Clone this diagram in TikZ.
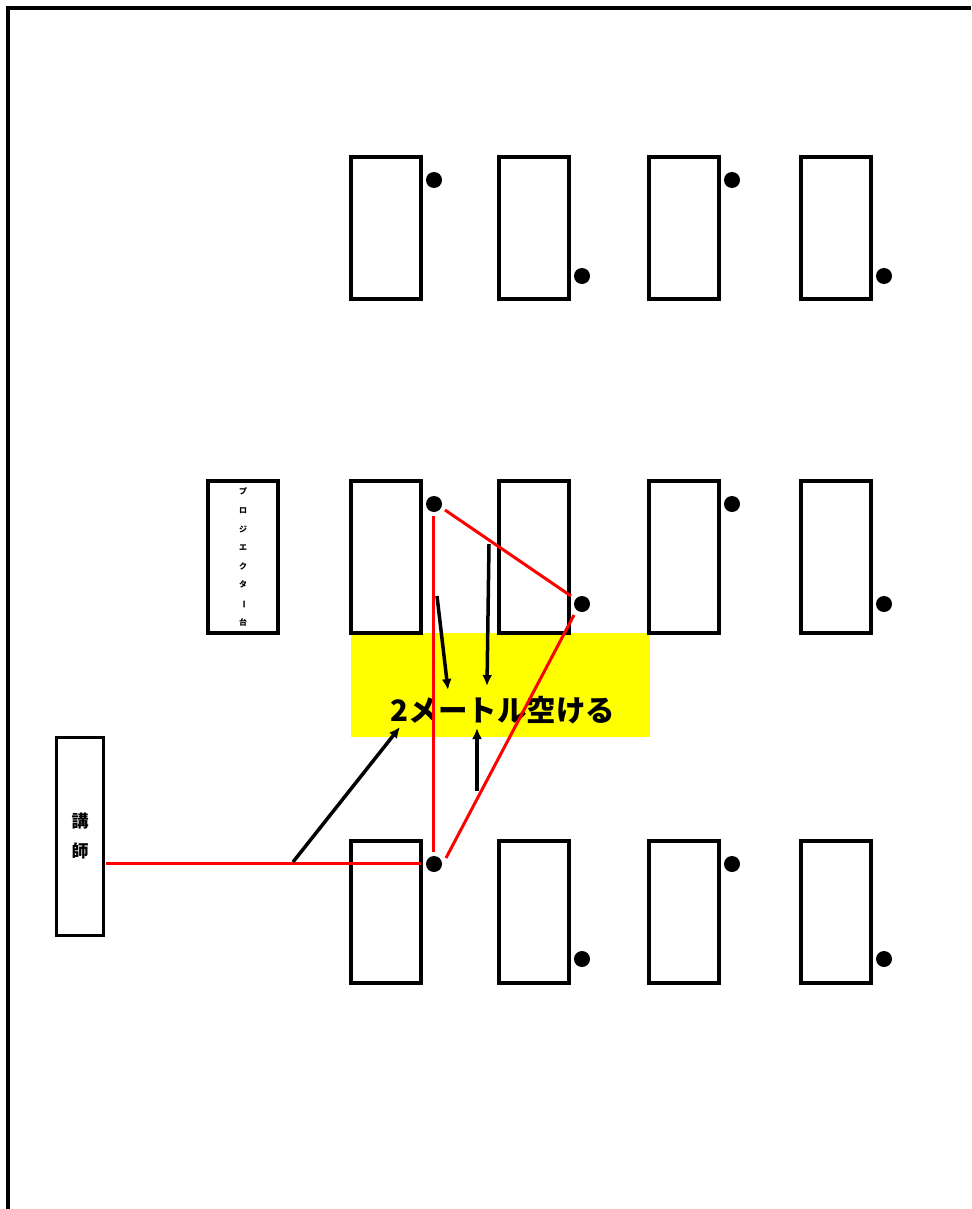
\documentclass[tikz,border=0pt]{standalone}
\usepackage{fontspec}
\newfontfamily\jp{Noto Sans CJK JP}
\usetikzlibrary{arrows.meta}
\definecolor{yel}{RGB}{255,255,0}
\definecolor{rd}{RGB}{255,0,0}
\begin{document}
\begin{tikzpicture}[x=1pt,y=-1pt,
  desk/.style={draw,line width=3.5pt,minimum width=70pt,minimum height=142pt,inner sep=0pt,outer sep=0pt},
  tall/.style={minimum height=152pt},
  seat/.style={circle,fill=black,minimum size=16pt,inner sep=0pt,outer sep=0pt},
  redline/.style={draw=rd,line width=3pt},
  arr/.style={draw=black,line width=3.5pt,-{Latex[length=11pt,width=10pt]}},
  wall/.style={draw=black,line width=4pt},
]
\useasboundingbox (0,0) rectangle (971,1209);
\fill[white] (0,0) rectangle (971,1209);
% walls
\coordinate (wb) at (8,1209);
\coordinate (wc) at (8,8);
\coordinate (wr) at (971,8);
\draw[wall] (wb) -- (wc) -- (wr);
% yellow gap
\node[fill=yel,minimum width=299pt,minimum height=104pt,inner sep=0pt,anchor=north west] (gap) at (351,633) {};
\node[font=\jp\bfseries\fontsize{29.5}{30}\selectfont] (label) at (503,710) {2メートル空ける};
% desks row 1
\node[desk] (a1) at (386,228) {};
\node[desk] (a2) at (534,228) {};
\node[desk] (a3) at (684,228) {};
\node[desk] (a4) at (836,228) {};
% desks row 2
\node[desk,tall] (b1) at (386,557) {};
\node[desk,tall] (b2) at (534,557) {};
\node[desk,tall] (b3) at (684,557) {};
\node[desk,tall] (b4) at (836,557) {};
% desks row 3
\node[desk] (c1) at (386,912) {};
\node[desk] (c2) at (534,912) {};
\node[desk] (c3) at (684,912) {};
\node[desk] (c4) at (836,912) {};
% projector table
\node[desk,tall,align=center,font=\jp\bfseries\fontsize{8}{18.6}\selectfont] (proj) at (243,557)
  {プ\\ロ\\ジ\\エ\\ク\\タ\\\rotatebox[origin=c]{-90}{ー}\\台};
% lecturer
\node[draw,line width=3.5pt,minimum width=47pt,minimum height=198pt,inner sep=0pt,outer sep=0pt,
  align=center,font=\jp\bfseries\fontsize{17}{30}\selectfont] (lect) at (80,836.5) {講\\師};
% seats
\node[seat] (sa1) at (434,180) {};
\node[seat] (sa2) at (582,276) {};
\node[seat] (sa3) at (732,180) {};
\node[seat] (sa4) at (884,276) {};
\node[seat] (sb1) at (434,504) {};
\node[seat] (sb2) at (582,604) {};
\node[seat] (sb3) at (732,504) {};
\node[seat] (sb4) at (884,604) {};
\node[seat] (sc1) at (434,864) {};
\node[seat] (sc2) at (582,959) {};
\node[seat] (sc3) at (732,864) {};
\node[seat] (sc4) at (884,959) {};
% red lines
\coordinate (rs) at (106,863);
\coordinate (re) at (421,863);
\draw[redline] (rs) -- (re);
\coordinate (v1) at (433,516);
\coordinate (v2) at (433,852);
\draw[redline] (v1) -- (v2);
\coordinate (d1s) at (445,510);
\coordinate (d1e) at (571,596);
\draw[redline] (d1s) -- (d1e);
\coordinate (d2s) at (574,615);
\coordinate (d2e) at (446,858);
\draw[redline] (d2s) -- (d2e);
% black arrows
\coordinate (k1s) at (293,862);
\coordinate (k1e) at (400,727);
\draw[arr] (k1s) -- (k1e);
\coordinate (k2s) at (437,596);
\coordinate (k2e) at (448,690);
\draw[arr] (k2s) -- (k2e);
\coordinate (k3s) at (489,544);
\coordinate (k3e) at (487,686);
\draw[arr] (k3s) -- (k3e);
\coordinate (k4s) at (477,791);
\coordinate (k4e) at (477,728);
\draw[arr] (k4s) -- (k4e);
\end{tikzpicture}
\end{document}
